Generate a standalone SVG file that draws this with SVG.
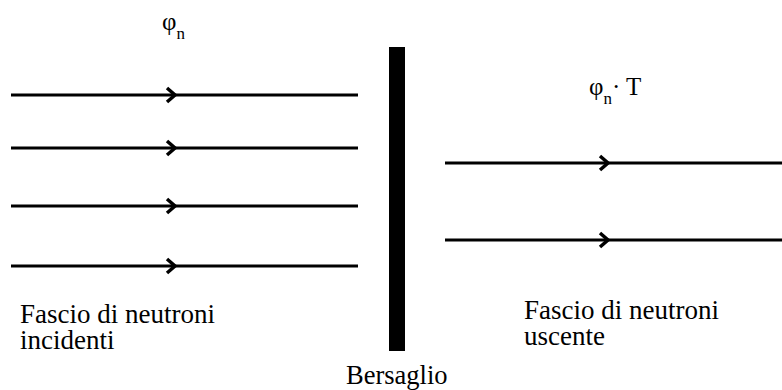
<svg xmlns="http://www.w3.org/2000/svg" width="782" height="390" viewBox="0 0 782 390">
<defs>
<style>
.beam{stroke:#000;stroke-width:3;fill:none}
.chev{stroke:#000;stroke-width:3.5;fill:none;stroke-linejoin:miter}
</style>
</defs>
<rect width="782" height="390" fill="#fff"/>
<g id="connectors">
<line class="beam" x1="11" y1="95" x2="358" y2="95"/>
<polyline class="chev" points="167,88 175,95 167,102"/>
<line class="beam" x1="11" y1="148" x2="358" y2="148"/>
<polyline class="chev" points="167,141 175,148 167,155"/>
<line class="beam" x1="11" y1="206" x2="358" y2="206"/>
<polyline class="chev" points="167,199 175,206 167,213"/>
<line class="beam" x1="11" y1="266" x2="358" y2="266"/>
<polyline class="chev" points="167,259 175,266 167,273"/>
<line class="beam" x1="445" y1="163" x2="782" y2="163"/>
<polyline class="chev" points="600,156 608,163 600,170"/>
<line class="beam" x1="445" y1="240" x2="782" y2="240"/>
<polyline class="chev" points="600,233 608,240 600,247"/>
</g>
<g id="target">
<rect x="389" y="47" width="16" height="304" fill="#000"/>
<text x="346" y="384" font-size="26.5" font-family="Liberation Serif">Bersaglio</text>
</g>
<g id="incident">
<text x="162" y="30" font-size="25" font-family="Liberation Serif">φ<tspan font-size="17" dy="9">n</tspan></text>
<text x="20" y="323" font-size="27" font-family="Liberation Serif">Fascio di neutroni</text>
<text x="20" y="349" font-size="27" font-family="Liberation Serif">incidenti</text>
</g>
<g id="outgoing">
<text x="589" y="95" font-size="25" font-family="Liberation Serif">φ<tspan font-size="17" dy="9">n</tspan><tspan dy="-9">· T</tspan></text>
<text x="524" y="319" font-size="27" font-family="Liberation Serif">Fascio di neutroni</text>
<text x="524" y="345" font-size="27" font-family="Liberation Serif">uscente</text>
</g>
</svg>
